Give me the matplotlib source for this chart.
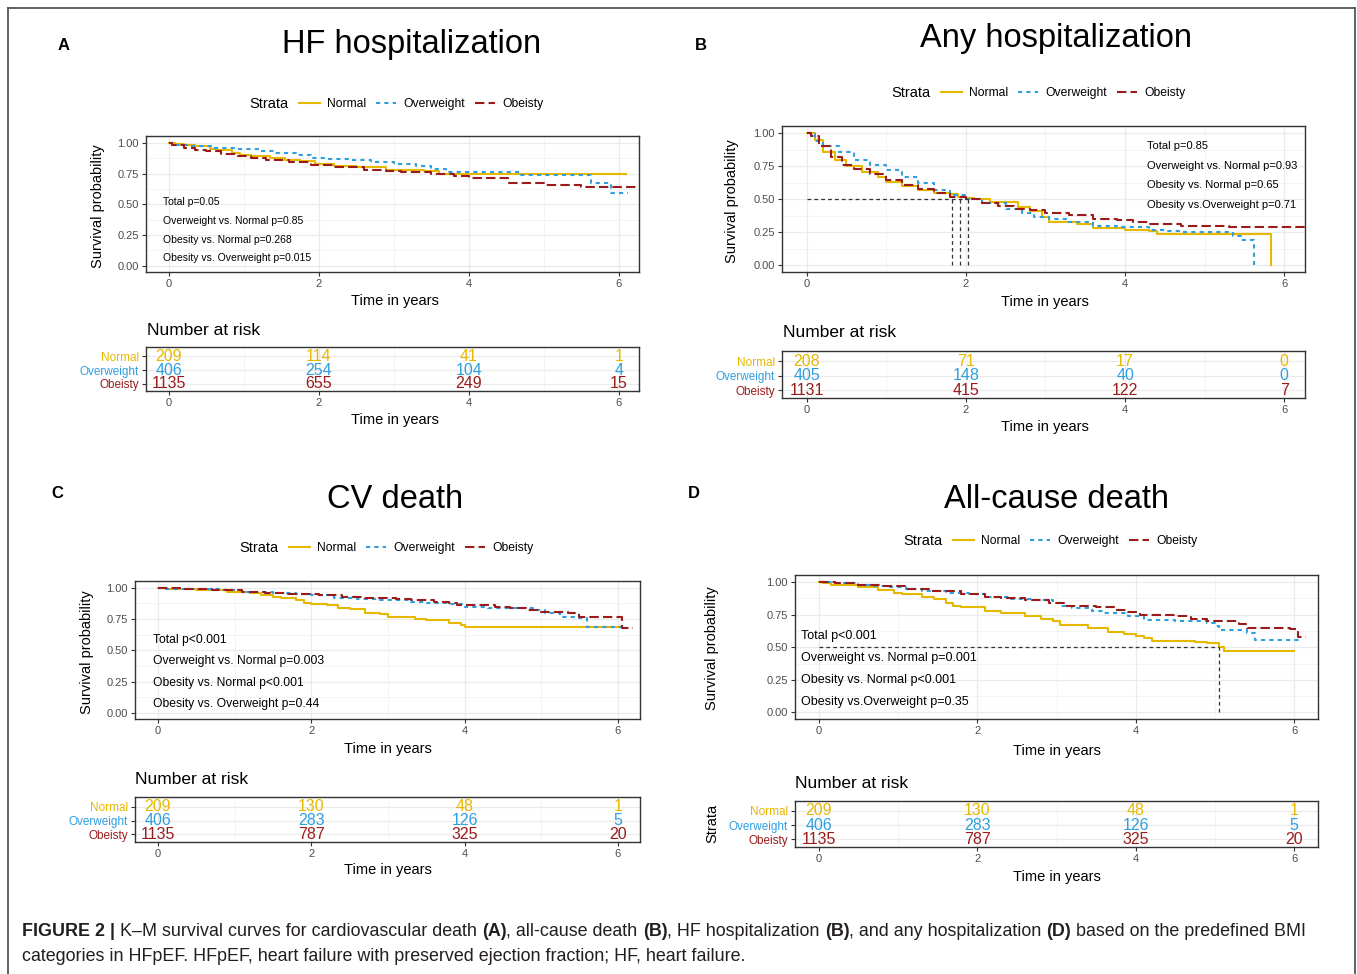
import matplotlib
matplotlib.use("Agg")
import matplotlib.pyplot as plt
from matplotlib.lines import Line2D

plt.rcParams['font.family'] = ['Liberation Sans', 'DejaVu Sans']

W, H = 1357, 974

strata = ['Normal', 'Overweight', 'Obeisty']
strata_colors = ['#E7B800', '#2E9FDF', '#9B1B1B']
risk_times = [0, 2, 4, 6]

# --- A: HF hospitalization ---
hf_normal_t = [0, 0.08, 0.2, 0.35, 0.55, 0.65, 0.85, 0.95, 1.1, 1.35, 1.55, 1.75, 1.95, 2.2, 2.5, 2.9, 3.4, 3.6, 6.1]
hf_normal_s = [1.0, 0.99, 0.98, 0.97, 0.95, 0.94, 0.92, 0.90, 0.89, 0.88, 0.86, 0.85, 0.83, 0.81, 0.80, 0.78, 0.77, 0.75, 0.75]
hf_over_t = [0, 0.1, 0.3, 0.6, 0.9, 1.2, 1.4, 1.7, 1.9, 2.1, 2.4, 2.7, 3.0, 3.3, 3.5, 3.7, 4.7, 5.63, 5.9, 6.13]
hf_over_s = [1.0, 0.98, 0.97, 0.96, 0.95, 0.93, 0.92, 0.90, 0.88, 0.87, 0.86, 0.84, 0.83, 0.81, 0.79, 0.76, 0.74, 0.67, 0.59, 0.59]
hf_obes_t = [0, 0.05, 0.2, 0.35, 0.5, 0.7, 0.9, 1.1, 1.3, 1.6, 1.9, 2.2, 2.6, 2.9, 3.1, 3.5, 3.8, 4.0, 4.53, 5.0, 5.5, 6.26]
hf_obes_s = [1.0, 0.98, 0.96, 0.94, 0.93, 0.91, 0.89, 0.88, 0.86, 0.84, 0.82, 0.80, 0.78, 0.77, 0.76, 0.75, 0.73, 0.71, 0.67, 0.66, 0.64, 0.64]
hf_risk = [[209, 114, 41, 1], [406, 254, 104, 4], [1135, 655, 249, 15]]
hf_pvals = ["Total p=0.05", "Overweight vs. Normal p=0.85",
            "Obesity vs. Normal p=0.268", "Obesity vs. Overweight p=0.015"]

# --- B: Any hospitalization ---
any_normal_t = [0, 0.1, 0.2, 0.35, 0.5, 0.7, 0.9, 1.0, 1.2, 1.4, 1.6, 1.8, 1.9, 2.0, 2.1, 2.3, 2.65, 2.8, 2.95, 3.05, 3.4, 3.6, 4.0, 4.3, 4.4, 5.83, 5.83]
any_normal_s = [1.0, 0.95, 0.86, 0.80, 0.75, 0.71, 0.67, 0.63, 0.60, 0.57, 0.55, 0.54, 0.52, 0.51, 0.50, 0.48, 0.44, 0.41, 0.37, 0.33, 0.31, 0.28, 0.27, 0.26, 0.24, 0.0, 0.0]
any_over_t = [0, 0.1, 0.2, 0.4, 0.6, 0.8, 1.0, 1.2, 1.4, 1.6, 1.8, 2.0, 2.2, 2.5, 2.7, 2.85, 3.05, 3.3, 3.6, 3.9, 4.3, 4.5, 4.7, 5.35, 5.45, 5.62, 5.62]
any_over_s = [1.0, 0.94, 0.90, 0.86, 0.80, 0.76, 0.72, 0.67, 0.62, 0.57, 0.53, 0.50, 0.47, 0.43, 0.40, 0.37, 0.35, 0.33, 0.30, 0.29, 0.27, 0.26, 0.25, 0.22, 0.19, 0.0, 0.0]
any_obes_t = [0, 0.05, 0.15, 0.3, 0.45, 0.6, 0.8, 1.0, 1.2, 1.4, 1.6, 1.8, 2.0, 2.2, 2.4, 2.6, 2.8, 3.0, 3.3, 3.6, 3.9, 4.1, 4.3, 4.7, 5.3, 6.3]
any_obes_s = [1.0, 0.98, 0.90, 0.82, 0.76, 0.73, 0.69, 0.65, 0.61, 0.58, 0.55, 0.52, 0.50, 0.47, 0.45, 0.43, 0.42, 0.40, 0.38, 0.35, 0.34, 0.33, 0.31, 0.30, 0.29, 0.29]
any_medians = [1.83, 1.93, 2.03]
any_risk = [[208, 71, 17, 0], [405, 148, 40, 0], [1131, 415, 122, 7]]
any_pvals = ["Total p=0.85", "Overweight vs. Normal p=0.93",
             "Obesity vs. Normal p=0.65", "Obesity vs.Overweight p=0.71"]

# --- C: CV death ---
cv_normal_t = [0, 0.1, 0.5, 0.9, 1.2, 1.35, 1.5, 1.6, 1.8, 1.9, 2.0, 2.2, 2.35, 2.5, 2.7, 2.9, 3.0, 3.35, 3.5, 3.8, 3.95, 4.0, 6.05]
cv_normal_s = [1.0, 0.99, 0.98, 0.97, 0.96, 0.94, 0.93, 0.92, 0.90, 0.88, 0.87, 0.86, 0.84, 0.83, 0.80, 0.79, 0.77, 0.75, 0.74, 0.72, 0.70, 0.69, 0.69]
cv_over_t = [0, 0.05, 0.8, 1.1, 1.5, 1.8, 2.0, 2.3, 2.6, 2.9, 3.3, 3.5, 3.8, 4.0, 4.3, 4.9, 5.05, 5.25, 5.5, 5.6, 6.1]
cv_over_s = [1.0, 0.99, 0.98, 0.97, 0.96, 0.95, 0.94, 0.92, 0.91, 0.90, 0.89, 0.88, 0.87, 0.85, 0.84, 0.82, 0.80, 0.77, 0.76, 0.69, 0.69]
cv_obes_t = [0, 0.3, 0.7, 1.1, 1.4, 1.7, 2.1, 2.4, 2.7, 3.1, 3.3, 3.6, 3.8, 3.9, 4.4, 4.6, 4.8, 5.0, 5.35, 5.5, 6.05, 6.2]
cv_obes_s = [1.0, 0.99, 0.98, 0.97, 0.96, 0.95, 0.94, 0.93, 0.92, 0.91, 0.90, 0.89, 0.88, 0.86, 0.85, 0.84, 0.82, 0.81, 0.80, 0.77, 0.68, 0.68]
cv_risk = [[209, 130, 48, 1], [406, 283, 126, 5], [1135, 787, 325, 20]]
cv_pvals = ["Total p<0.001", "Overweight vs. Normal p=0.003",
            "Obesity vs. Normal p<0.001", "Obesity vs. Overweight p=0.44"]

# --- D: All-cause death ---
all_normal_t = [0, 0.05, 0.15, 0.5, 0.75, 0.95, 1.05, 1.3, 1.45, 1.6, 1.7, 1.8, 2.1, 2.3, 2.6, 2.8, 2.95, 3.05, 3.4, 3.65, 3.85, 4.0, 4.1, 4.2, 4.75, 4.9, 5.05, 5.12, 6.0]
all_normal_s = [1.0, 0.99, 0.98, 0.96, 0.94, 0.92, 0.91, 0.89, 0.87, 0.84, 0.82, 0.81, 0.78, 0.76, 0.74, 0.72, 0.70, 0.67, 0.65, 0.62, 0.60, 0.59, 0.57, 0.55, 0.54, 0.53, 0.50, 0.47, 0.47]
all_over_t = [0, 0.2, 0.5, 0.7, 0.9, 1.1, 1.3, 1.6, 1.9, 2.1, 2.4, 2.7, 2.95, 3.05, 3.2, 3.45, 3.6, 3.9, 4.1, 4.5, 4.9, 5.0, 5.05, 5.4, 5.5, 6.1]
all_over_s = [1.0, 0.99, 0.98, 0.97, 0.96, 0.95, 0.93, 0.92, 0.91, 0.89, 0.87, 0.86, 0.84, 0.82, 0.80, 0.78, 0.76, 0.74, 0.71, 0.70, 0.69, 0.66, 0.63, 0.61, 0.56, 0.56]
all_obes_t = [0, 0.2, 0.5, 0.8, 1.1, 1.4, 1.8, 2.1, 2.3, 2.6, 2.9, 3.1, 3.5, 3.75, 3.9, 4.05, 4.5, 4.7, 4.9, 5.3, 5.4, 5.95, 6.05, 6.15]
all_obes_s = [1.0, 0.99, 0.98, 0.97, 0.95, 0.93, 0.91, 0.89, 0.88, 0.86, 0.84, 0.82, 0.81, 0.79, 0.77, 0.75, 0.74, 0.72, 0.70, 0.68, 0.65, 0.64, 0.58, 0.58]
all_medians = [5.05]
all_risk = [[209, 130, 48, 1], [406, 283, 126, 5], [1135, 787, 325, 20]]
all_pvals = ["Total p<0.001", "Overweight vs. Normal p=0.001",
             "Obesity vs. Normal p<0.001", "Obesity vs.Overweight p=0.35"]

caption_line1 = [("FIGURE 2 |", True), (" K–M survival curves for cardiovascular death ", False), ("(A)", True),
                 (", all-cause death ", False), ("(B)", True), (", HF hospitalization ", False), ("(B)", True),
                 (", and any hospitalization ", False), ("(D)", True), (" based on the predefined BMI", False)]
caption_line2 = [("categories in HFpEF. HFpEF, heart failure with preserved ejection fraction; HF, heart failure.", False)]


fig = plt.figure(figsize=(W / 100, H / 100), dpi=100)


def axes_px(l, t, r, b):
    return fig.add_axes([l / W, 1 - b / H, (r - l) / W, (b - t) / H])


def ftext(x, y, s, **kw):
    return fig.text(x / W, 1 - y / H, s, **kw)


def style_axes(ax, xlim):
    ax.set_facecolor('white')
    for sp in ax.spines.values():
        sp.set_color('#333333')
        sp.set_linewidth(1.0)
    ax.set_xlim(*xlim)
    ax.set_xticks([0, 2, 4, 6])
    ax.set_xticks([1, 3, 5], minor=True)
    ax.tick_params(which='major', length=3, width=0.8, color='#333333',
                   labelsize=8, labelcolor='#4D4D4D', pad=2)
    ax.tick_params(which='minor', length=0)
    ax.grid(which='major', color='#EBEBEB', lw=0.9)
    ax.grid(which='minor', color='#F3F3F3', lw=0.6)
    ax.set_axisbelow(True)


line_kw = [dict(ls='-'), dict(dashes=(2, 2)), dict(dashes=(4.5, 2))]


def draw_panel(p):
    L, R = p['lr']
    # survival curves
    ax = axes_px(L, p['main_tb'][0], R, p['main_tb'][1])
    style_axes(ax, p['xlim'])
    ax.set_ylim(-0.05, 1.055)
    ax.set_yticks([0, 0.25, 0.5, 0.75, 1.0])
    ax.set_yticklabels(['0.00', '0.25', '0.50', '0.75', '1.00'])
    ax.set_yticks([0.125, 0.375, 0.625, 0.875], minor=True)
    for (t, s), col, kw in zip(p['curves'], strata_colors, line_kw):
        ax.step(t, s, where='post', color=col, lw=1.5, **kw)
    if p.get('medians'):
        mcol = '#333333'
        ax.plot([0, max(p['medians'])], [0.5, 0.5], color=mcol, lw=0.9, dashes=(3, 2.5))
        for m in p['medians']:
            ax.plot([m, m], [0, 0.5], color=mcol, lw=0.9, dashes=(3, 2.5))
    px, py, pfs = p['ptext']
    for i, s in enumerate(p['pvals']):
        ftext(px, py[i], s, fontsize=pfs, va='center', ha='left', color='black')

    # number at risk table
    rx = axes_px(L, p['risk_tb'][0], R, p['risk_tb'][1])
    style_axes(rx, p['xlim'])
    rx.set_ylim(0.45, 3.7)
    rx.set_yticks([3, 2, 1])
    rx.set_yticklabels(strata, fontsize=8.5)
    rx.grid(which='major', axis='y', color='#EBEBEB', lw=0.9)
    for lab, col in zip(rx.get_yticklabels(), strata_colors):
        lab.set_color(col)
    for row, (vals, col) in enumerate(zip(p['risk'], strata_colors)):
        for tx, v in zip(risk_times, vals):
            rx.text(tx, 3 - row, str(v), color=col, fontsize=11.5, ha='center', va='center')

    # text around the panel
    lx, ly = p['letter']
    ftext(lx, ly, p['name'], fontsize=12, fontweight='bold', ha='center', va='center')
    tx, ty = p['title_pos']
    ftext(tx, ty, p['title'], fontsize=23.5, ha='center', va='center')
    sx, sy = p['legend_pos']
    ftext(sx, sy, 'Strata', fontsize=10.5, ha='left', va='center')
    handles = [Line2D([], [], color=c, lw=1.5, **kw) for c, kw in zip(strata_colors, line_kw)]
    fig.legend(handles, strata, loc='center left', bbox_to_anchor=((sx + 50) / W, 1 - sy / H),
               ncol=3, frameon=False, fontsize=8.7, handlelength=1.7, handletextpad=0.6,
               columnspacing=0.8, borderpad=0, borderaxespad=0)
    yx, yy = p['ylabel_pos']
    ftext(yx, yy, 'Survival probability', fontsize=10.5, rotation=90, ha='center', va='center')
    cx = p['time_x']
    ftext(cx, p['time_y'][0], 'Time in years', fontsize=10.5, ha='center', va='center')
    ftext(cx, p['time_y'][1], 'Time in years', fontsize=10.5, ha='center', va='center')
    nx, ny = p['nar_pos']
    ftext(nx, ny, 'Number at risk', fontsize=12.5, ha='left', va='center')
    if p.get('strata_label'):
        ax_, ay_ = p['strata_label']
        ftext(ax_, ay_, 'Strata', fontsize=10.5, rotation=90, ha='center', va='center')


panels = [
    dict(name='A', title='HF hospitalization', lr=(146, 639), main_tb=(136, 272), risk_tb=(347, 391),
         xlim=(-0.3, 6.27), curves=[(hf_normal_t, hf_normal_s), (hf_over_t, hf_over_s), (hf_obes_t, hf_obes_s)],
         risk=hf_risk, pvals=hf_pvals, ptext=(163, [202, 221, 240, 258], 7.5),
         letter=(64, 45), title_pos=(412, 45), legend_pos=(249, 104), ylabel_pos=(98, 206),
         time_x=395, time_y=(301, 420), nar_pos=(147, 330)),
    dict(name='B', title='Any hospitalization', lr=(782, 1305), main_tb=(126, 272), risk_tb=(351, 398),
         xlim=(-0.31, 6.26), curves=[(any_normal_t, any_normal_s), (any_over_t, any_over_s), (any_obes_t, any_obes_s)],
         medians=any_medians, risk=any_risk, pvals=any_pvals, ptext=(1147, [146, 166, 185, 205], 8),
         letter=(701, 45), title_pos=(1056, 38), legend_pos=(891, 93), ylabel_pos=(732, 201),
         time_x=1045, time_y=(302, 427), nar_pos=(783, 333)),
    dict(name='C', title='CV death', lr=(135, 640), main_tb=(581, 719), risk_tb=(797, 842),
         xlim=(-0.3, 6.29), curves=[(cv_normal_t, cv_normal_s), (cv_over_t, cv_over_s), (cv_obes_t, cv_obes_s)],
         risk=cv_risk, pvals=cv_pvals, ptext=(153, [640, 661, 683, 704], 8.7),
         letter=(57, 494), title_pos=(395, 500), legend_pos=(239, 548), ylabel_pos=(87, 652),
         time_x=388, time_y=(749, 870), nar_pos=(135, 779)),
    dict(name='D', title='All-cause death', lr=(795, 1318), main_tb=(575, 719), risk_tb=(801, 847),
         xlim=(-0.3, 6.3), curves=[(all_normal_t, all_normal_s), (all_over_t, all_over_s), (all_obes_t, all_obes_s)],
         medians=all_medians, risk=all_risk, pvals=all_pvals, ptext=(801, [636, 658, 680, 702], 9),
         letter=(694, 494), title_pos=(1056, 500), legend_pos=(903, 541), ylabel_pos=(712, 648),
         time_x=1057, time_y=(751, 877), nar_pos=(795, 783), strata_label=(712, 823)),
]

for p in panels:
    draw_panel(p)

# outer frame
frame = dict(color='#555555', lw=1.3, transform=fig.transFigure)
fig.add_artist(Line2D([8 / W, 8 / W], [0, 1 - 8 / H], **frame))
fig.add_artist(Line2D([8 / W, 1355 / W], [1 - 8 / H, 1 - 8 / H], **frame))
fig.add_artist(Line2D([1355 / W, 1355 / W], [0, 1 - 8 / H], **frame))

# caption with bold pieces
cap_font = ['Liberation Sans Narrow', 'Liberation Sans', 'DejaVu Sans']
renderer = fig.canvas.get_renderer()


def text_width(s, size, bold):
    t = ftext(0, 0, s, fontsize=size, fontweight='bold' if bold else 'normal', family=cap_font)
    w = t.get_window_extent(renderer=renderer).width
    t.remove()
    return w


def rich_line(pieces, x, y, size):
    sp = text_width('a a', size, False) - text_width('aa', size, False)
    arts = []
    cx = x
    for s, bold in pieces:
        cx += sp * (len(s) - len(s.lstrip(' ')))
        core = s.strip(' ')
        t = ftext(cx, y, core, fontsize=size, fontweight='bold' if bold else 'normal',
                  family=cap_font, color='#231F20', ha='left', va='baseline')
        cx += t.get_window_extent(renderer=renderer).width
        cx += sp * (len(s) - len(s.rstrip(' ')))
        arts.append(t)
    return arts, cx - x


arts, width = rich_line(caption_line1, 22, 936, 12)
for a in arts:
    a.remove()
cap_size = 12 * 1288 / width
rich_line(caption_line1, 22, 936, cap_size)
rich_line(caption_line2, 22, 961, cap_size)

fig.savefig('out.png', dpi=100)
